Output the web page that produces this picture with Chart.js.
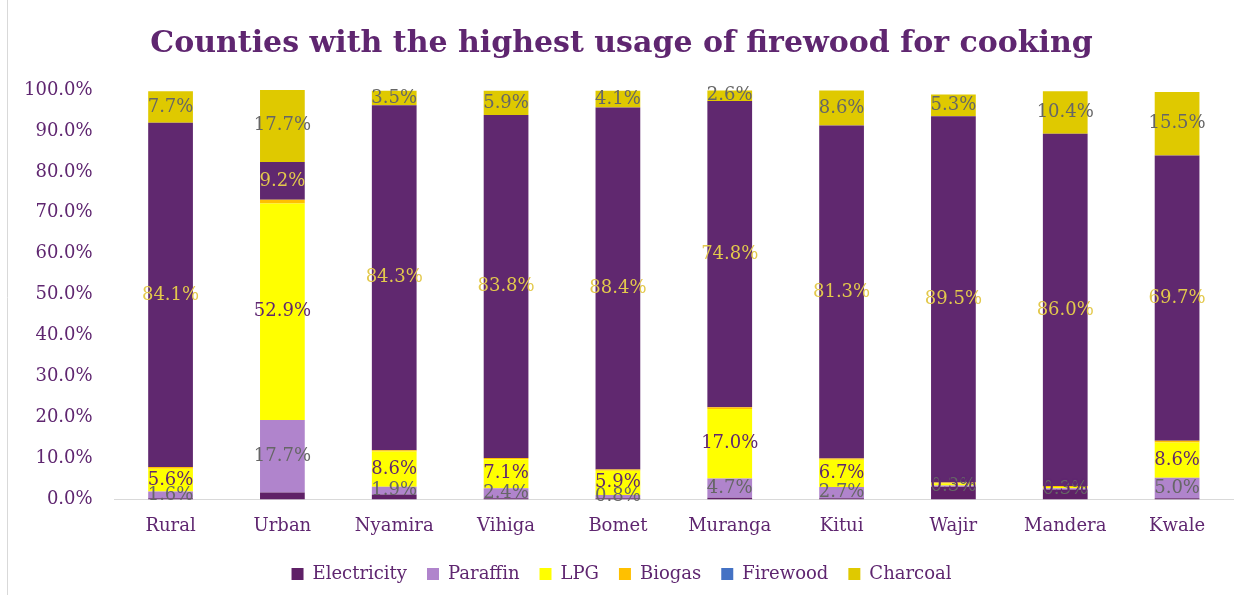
<!DOCTYPE html>
<html>
<head>
<meta charset="utf-8">
<script src="https://cdn.jsdelivr.net/npm/chart.js@4"></script>
<style>
  html, body { margin: 0; padding: 0; background: #fff; }
  canvas { display: block; }
</style>
</head>
<body>
<canvas id="fuelChart" width="1241" height="595"></canvas>
<script>
const categories = ['Rural', 'Urban', 'Nyamira', 'Vihiga', 'Bomet', 'Muranga', 'Kitui', 'Wajir', 'Mandera', 'Kwale'];

const electricity = [0.3, 1.7, 1.2, 0.3, 0.3, 0.4, 0.3, 3.1, 2.4, 0.3];
const paraffin    = [1.6, 17.7, 1.9, 2.4, 0.8, 4.7, 2.7, 0.3, 0.3, 5.0];
const lpg         = [5.6, 52.9, 8.6, 7.1, 5.9, 17.0, 6.7, 0.5, 0.3, 8.6];
const biogas      = [0.4, 0.9, 0.3, 0.3, 0.3, 0.4, 0.3, 0.2, 0.3, 0.4];
const firewood    = [84.1, 9.2, 84.3, 83.8, 88.4, 74.8, 81.3, 89.5, 86.0, 69.7];
const charcoal    = [7.7, 17.7, 3.5, 5.9, 4.1, 2.6, 8.6, 5.3, 10.4, 15.5];

const yTicks = [0, 10, 20, 30, 40, 50, 60, 70, 80, 90, 100];

const PURPLE = '#5f2670';
const serif = 'DejaVu Serif';

// value labels drawn in the middle of each segment
const segmentLabels = {
    id: 'segmentLabels',
    afterDatasetsDraw(chart) {
        const ctx = chart.ctx;
        ctx.save();
        ctx.font = '18px "' + serif + '"';
        ctx.textAlign = 'center';
        ctx.textBaseline = 'middle';
        chart.data.datasets.forEach((ds, i) => {
            if (!ds.labelColor) return;
            const meta = chart.getDatasetMeta(i);
            meta.data.forEach((bar, j) => {
                const v = ds.data[j];
                ctx.fillStyle = ds.labelColor;
                ctx.fillText(v.toFixed(1) + '%', bar.x, (bar.y + bar.base) / 2);
            });
        });
        ctx.restore();
    }
};

// thin frame line on the left edge
const frameLine = {
    id: 'frameLine',
    beforeDraw(chart) {
        const ctx = chart.ctx;
        ctx.save();
        ctx.strokeStyle = '#d9d9d9';
        ctx.lineWidth = 1;
        ctx.beginPath();
        ctx.moveTo(7.5, 0);
        ctx.lineTo(7.5, chart.height);
        ctx.stroke();
        ctx.restore();
    }
};

function series(label, data, color, labelColor, legendColor) {
    return {
        label: label,
        data: data,
        backgroundColor: color,
        borderWidth: 0,
        labelColor: labelColor,
        legendColor: legendColor || color,
        barPercentage: 0.8,
        categoryPercentage: 0.5
    };
}

const ctx = document.getElementById('fuelChart').getContext('2d');

new Chart(ctx, {
    type: 'bar',
    data: {
        labels: categories,
        datasets: [
            series('Electricity', electricity, '#5f2167', null),
            series('Paraffin', paraffin, '#b084cc', '#666666'),
            series('LPG', lpg, '#ffff00', PURPLE),
            series('Biogas', biogas, '#ffc000', null),
            series('Firewood', firewood, '#60286f', '#e3c94c', '#4472c4'),
            series('Charcoal', charcoal, '#dfc900', '#666666')
        ]
    },
    options: {
        responsive: false,
        animation: false,
        layout: { padding: { left: 10, right: 8, top: 0, bottom: 2 } },
        plugins: {
            title: {
                display: true,
                text: 'Counties with the highest usage of firewood for cooking',
                color: PURPLE,
                font: { family: serif, size: 30, weight: 'bold' },
                padding: { top: 26, bottom: 28 }
            },
            legend: {
                position: 'bottom',
                labels: {
                    color: PURPLE,
                    boxWidth: 12,
                    boxHeight: 12,
                    padding: 20,
                    font: { family: serif, size: 18 },
                    generateLabels(chart) {
                        return chart.data.datasets.map((ds, i) => ({
                            text: ds.label,
                            fillStyle: ds.legendColor,
                            strokeStyle: ds.legendColor,
                            lineWidth: 0,
                            fontColor: PURPLE,
                            hidden: false,
                            datasetIndex: i
                        }));
                    }
                }
            },
            tooltip: { enabled: false }
        },
        scales: {
            x: {
                stacked: true,
                grid: { display: false },
                border: { color: '#d9d9d9', width: 1 },
                ticks: { color: PURPLE, font: { family: serif, size: 18 }, padding: 8 }
            },
            y: {
                stacked: true,
                min: 0,
                max: 100,
                grid: { display: false },
                border: { display: false },
                afterBuildTicks(scale) {
                    scale.ticks = yTicks.map(v => ({ value: v }));
                },
                ticks: {
                    color: PURPLE,
                    font: { family: serif, size: 18 },
                    padding: 14,
                    callback: v => v.toFixed(1) + '%'
                }
            }
        }
    },
    plugins: [segmentLabels, frameLine]
});
</script>
</body>
</html>
